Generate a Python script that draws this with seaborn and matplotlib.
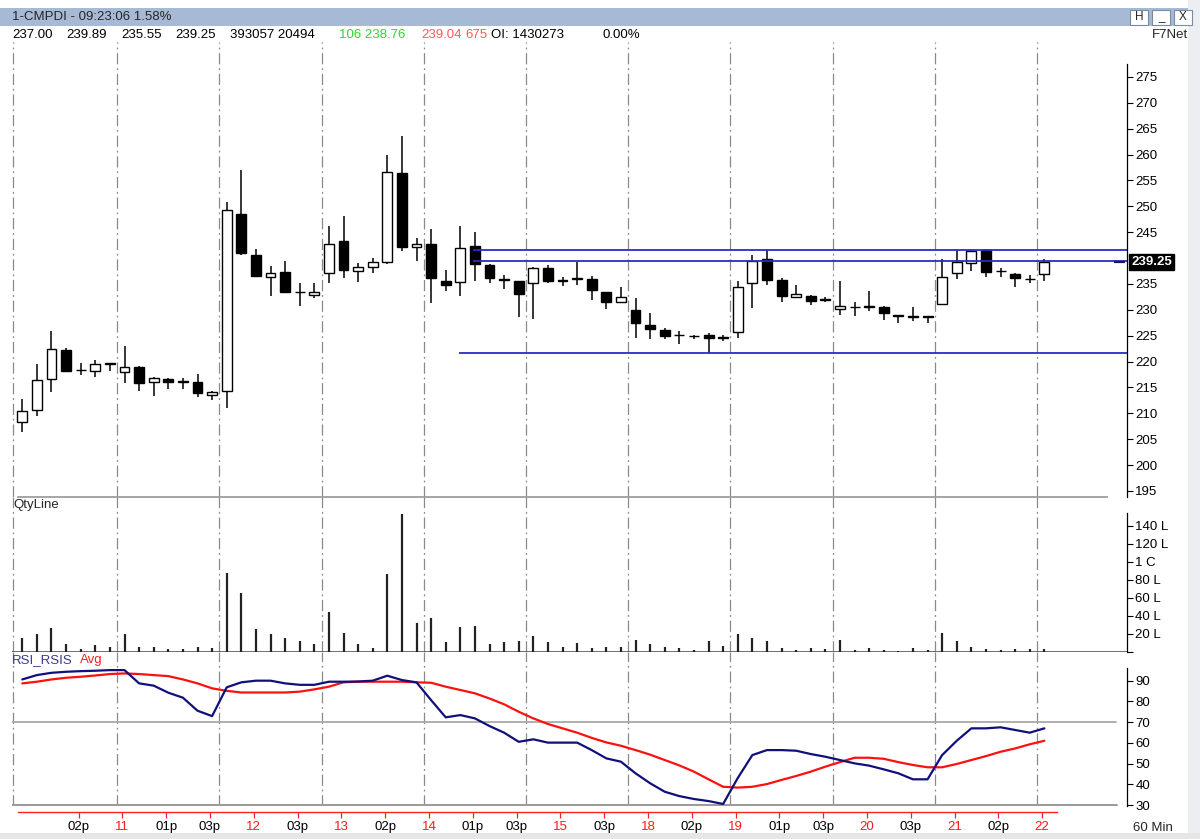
import numpy as np
import pandas as pd
import matplotlib
matplotlib.use("Agg")
import matplotlib.pyplot as plt
import matplotlib.transforms as mtransforms
from matplotlib.patches import Rectangle
import seaborn as sns

# 60 min candles, CMPDI (bar index 0..70)
opens = [208.3, 210.7, 216.6, 222.2, 218.3, 218.1, 219.6, 217.9, 219.0, 216.0,
         216.6, 216.1, 216.0, 213.6, 214.3, 248.5, 240.6, 236.4, 237.4, 233.4,
         232.9, 237.1, 243.4, 237.5, 238.3, 239.3, 256.4, 242.2, 242.7, 235.6,
         235.3, 242.3, 238.7, 235.8, 235.5, 235.1, 238.0, 235.6, 236.0, 236.0,
         233.4, 231.5, 230.0, 227.1, 226.1, 225.1, 224.9, 225.1, 224.6, 225.7,
         235.1, 239.9, 235.8, 232.55, 232.7, 232.0, 230.2, 230.5, 230.6, 230.6,
         228.9, 228.7, 228.7, 231.1, 237.1, 239.0, 241.6, 237.5, 236.9, 235.9,
         237.0]
highs = [212.8, 219.5, 225.9, 222.7, 219.7, 220.3, 219.8, 223.1, 219.2, 217.0,
         216.9, 216.9, 217.7, 214.3, 250.9, 257.0, 241.7, 238.5, 239.5, 235.1,
         235.1, 246.2, 248.1, 239.0, 240.0, 259.9, 263.6, 243.8, 245.6, 237.7,
         246.2, 245.1, 238.9, 236.8, 235.6, 238.2, 238.7, 236.3, 239.3, 236.5,
         233.5, 234.4, 232.3, 229.3, 226.5, 225.9, 225.2, 225.6, 225.2, 235.6,
         240.6, 241.6, 236.2, 234.8, 232.8, 232.5, 235.5, 231.6, 233.7, 230.8,
         229.1, 230.6, 228.8, 239.8, 241.6, 241.6, 241.7, 238.0, 237.2, 236.7,
         239.89]
lows = [206.4, 209.4, 214.2, 217.9, 217.4, 217.0, 218.2, 215.9, 214.4, 213.4,
        214.7, 214.7, 213.2, 212.6, 211.0, 240.6, 236.3, 232.7, 233.2, 230.8,
        232.2, 235.1, 236.2, 235.3, 237.1, 238.9, 241.4, 239.5, 231.4, 233.6,
        232.7, 235.6, 235.2, 234.0, 228.6, 228.2, 235.1, 234.6, 234.8, 232.0,
        230.1, 231.3, 224.6, 224.4, 224.4, 223.5, 224.4, 221.6, 223.9, 224.6,
        230.4, 234.8, 231.5, 232.3, 230.9, 231.6, 229.0, 228.9, 229.8, 228.1,
        227.4, 227.9, 227.4, 230.9, 236.0, 237.6, 236.4, 236.4, 234.4, 235.2,
        235.55]
closes = [210.5, 216.4, 222.4, 218.2, 218.4, 219.5, 219.7, 219.0, 215.9, 216.8,
          216.1, 216.2, 213.9, 214.1, 249.3, 240.9, 236.6, 237.2, 233.4, 233.5,
          233.5, 242.7, 237.7, 238.3, 239.3, 256.6, 242.2, 242.7, 236.2, 234.9,
          241.9, 238.8, 236.2, 235.9, 233.0, 238.0, 235.6, 235.7, 236.1, 233.8,
          231.5, 232.5, 227.4, 226.3, 225.0, 225.2, 225.0, 224.5, 224.7, 234.5,
          239.45, 235.8, 232.7, 233.0, 231.7, 232.1, 230.75, 230.6, 230.7, 229.3,
          229.0, 228.8, 228.8, 236.4, 239.2, 241.4, 237.4, 237.6, 236.2, 236.0,
          239.25]

# quantity in lakhs
volume = [15.2, 20, 26.7, 8.9, 3, 7.8, 5.9, 20, 5.2, 5.2,
          3, 3, 5.2, 4.1, 88.1, 65.9, 25.2, 20, 15.2, 12.6,
          8.9, 44.8, 21.5, 8.9, 4.1, 86.7, 153, 32.6, 37.4, 11.5,
          27.8, 28.9, 8.9, 11.5, 12.6, 17.8, 11.5, 5.2, 10.4, 4.8,
          5.2, 5.2, 13.7, 8.9, 5.2, 4.4, 2.2, 12.6, 6.3, 20,
          15.2, 12.6, 4.4, 2.2, 4.4, 3.3, 13.7, 2.2, 4.4, 2.2,
          1.1, 4.4, 2.2, 20.7, 11.9, 5.2, 3.3, 2.2, 3.3, 3.3,
          3.3]

rsi = [90.6, 92.7, 93.8, 94.3, 94.6, 94.8, 95.1, 95.1, 88.7, 87.6,
       84.2, 81.8, 75.5, 72.9, 86.8, 89.2, 90.0, 90.0, 88.7, 88.0,
       88.0, 89.5, 89.5, 89.6, 90.0, 92.4, 90.3, 89.2, 80.6, 72.3,
       73.4, 71.8, 68.1, 64.9, 60.5, 61.7, 60.1, 60.1, 60.1, 56.5,
       52.5, 50.9, 45.3, 40.5, 36.4, 34.3, 32.9, 31.9, 30.5, 43.0,
       54.1, 56.5, 56.5, 56.2, 54.6, 53.3, 51.7, 50.1, 49.0, 47.2,
       45.3, 42.4, 42.4, 54.1, 61.0, 67.0, 67.0, 67.5, 66.2, 64.9,
       67.0]
rsi_avg = [88.7, 89.5, 90.6, 91.4, 91.9, 92.5, 93.2, 93.5, 93.2, 92.7,
           92.2, 90.6, 88.7, 86.3, 85.1, 84.3, 84.3, 84.3, 84.3, 84.7,
           85.8, 87.1, 89.2, 89.5, 89.5, 89.5, 89.5, 89.2, 89.0, 87.1,
           85.5, 83.9, 81.4, 78.6, 75.0, 71.8, 69.1, 67.0, 64.9, 62.4,
           60.2, 58.6, 56.5, 54.3, 51.7, 49.1, 46.1, 42.4, 38.8, 38.4,
           38.8, 40.1, 42.1, 44.0, 46.1, 48.5, 50.7, 52.8, 52.8, 52.3,
           50.7, 49.3, 48.2, 48.2, 49.8, 51.7, 53.6, 55.7, 57.3, 59.3,
           61.0]

time_labels = ["02p", "11", "01p", "03p", "12", "03p", "13", "02p", "14", "01p",
               "03p", "15", "03p", "18", "02p", "19", "01p", "03p", "20", "03p",
               "21", "02p", "22"]

price_ticks = [195, 200, 205, 210, 215, 220, 225, 230, 235, 245, 250, 255, 260, 265, 270, 275]

# drawn levels: (price, start bar)
levels = [(241.6, 30.9), (239.4, 30.9), (221.6, 29.9)]
last_price = 239.25

df = pd.DataFrame({"bar": np.arange(len(closes)), "open": opens, "high": highs,
                   "low": lows, "close": closes, "qty": volume,
                   "rsi": rsi, "avg": rsi_avg})

sns.set_theme(style="white")
plt.rcParams["font.family"] = ["Liberation Sans", "DejaVu Sans"]

W, H = 1200, 839
fig = plt.figure(figsize=(W / 100, H / 100), dpi=100)
fig.patch.set_facecolor("white")


def rect(x0, y0, x1, y1):
    return [x0 / W, 1 - y1 / H, (x1 - x0) / W, (y1 - y0) / H]


XMIN, XMAX = -0.705, 75.66
grid_x = [6.5 + 7 * k for k in range(10)]
dash = dict(color="#8a8a8a", lw=0.9, dashes=(9, 3, 1.5, 3))
FS = 9.5

# window chrome
fig.patches.append(Rectangle((0, 1 - 26 / H), 1, 18 / H, transform=fig.transFigure,
                             fc="#a7bad5", ec="none", zorder=0))
fig.patches.append(Rectangle((1188 / W, 0), 12 / W, 1, transform=fig.transFigure,
                             fc="#eceef2", ec="none", zorder=0))
fig.patches.append(Rectangle((0, 0), 1, 6 / H, transform=fig.transFigure,
                             fc="#e6e6e6", ec="none", zorder=0))
fig.text(12 / W, 1 - 17 / H, "1-CMPDI - 09:23:06 1.58%", fontsize=FS, va="center")
for bx, ch in zip([1130, 1152, 1174], ["H", "_", "X"]):
    fig.patches.append(Rectangle((bx / W, 1 - 25 / H), 18 / W, 15 / H,
                                 transform=fig.transFigure, fc="white", ec="#7a8aa0", lw=0.8))
    fig.text((bx + 9) / W, 1 - 17.5 / H, ch, fontsize=8.5, ha="center", va="center")

info = [(12, "237.00", "black"), (66, "239.89", "black"), (121, "235.55", "black"),
        (175, "239.25", "black"), (230, "393057 20494", "black"),
        (339, "106 238.76", "#2bd92b"), (421, "239.04", "#ff5a5a"),
        (465, "675", "#ff5a5a"), (491, "OI: 1430273", "black"), (603, "0.00%", "black")]
for x, s, c in info:
    fig.text(x / W, 1 - 35 / H, s, fontsize=FS, color=c, va="center")
fig.text(1152 / W, 1 - 35 / H, "F7Net", fontsize=FS, va="center")

ax_p = fig.add_axes(rect(12, 42, 1127, 497))
ax_v = fig.add_axes(rect(12, 497, 1127, 652))
ax_r = fig.add_axes(rect(12, 652, 1127, 806))

for ax in (ax_p, ax_v, ax_r):
    ax.set_xlim(XMIN, XMAX)
    ax.set_facecolor("white")
    for gx in grid_x:
        ax.axvline(gx, **dash)
    ax.axvline(XMIN + 0.05, **dash)
    for s in ("left", "top", "bottom"):
        ax.spines[s].set_visible(False)
    ax.spines["right"].set_color("black")
    ax.spines["right"].set_linewidth(0.9)
    ax.yaxis.tick_right()
    ax.tick_params(axis="y", direction="out", length=4, width=0.8, pad=2,
                   labelsize=FS, colors="black", right=True)
    ax.tick_params(axis="x", bottom=False, labelbottom=False)

# price panel
ax_p.set_ylim(193.84, 281.76)
ax_p.set_yticks(price_ticks)
ax_p.spines["right"].set_bounds(193.84, 277.5)

up = df["close"] >= df["open"]
ax_p.vlines(df["bar"], df["low"], df["high"], color="black", lw=1.1, zorder=2)
ax_p.bar(df["bar"], df["close"] - df["open"], bottom=df["open"], width=0.68,
         color=np.where(up, "white", "black"), edgecolor="black", lw=1.0, zorder=3)
for lvl, start in levels:
    ax_p.hlines(lvl, start, XMAX, color="#2b2bc4", lw=1.3, zorder=4)
ax_p.hlines(last_price, 74.75, 75.5, color="#1a1a5a", lw=1.6, zorder=5)
trans = mtransforms.blended_transform_factory(ax_p.transAxes, ax_p.transData)
ax_p.text(1.004, last_price, f"{last_price:.2f}", transform=trans, color="white",
          fontsize=FS, fontweight="bold", va="center", ha="left", zorder=6,
          bbox=dict(boxstyle="square,pad=0.15", fc="black", ec="black"))

# quantity panel
ax_v.set_ylim(0, 172.2)
ax_v.set_yticks([0, 20, 40, 60, 80, 100, 120, 140])
ax_v.set_yticklabels(["", "20 L", "40 L", "60 L", "80 L", "1 C", "120 L", "140 L"])
ax_v.spines["right"].set_bounds(0, 154)
ax_v.spines["top"].set_visible(True)
ax_v.spines["top"].set_color("#9a9a9a")
ax_v.spines["top"].set_bounds(XMIN + 0.4, 74.3)
ax_v.axhline(0, color="#555555", lw=1.2)
ax_v.vlines(df["bar"], 0, df["qty"], color="#222222", lw=1.6)
fig.text(13 / W, 1 - 505 / H, "QtyLine", fontsize=FS, va="center")

# RSI panel
ax_r.set_ylim(29.52, 103.84)
ax_r.set_yticks(np.arange(30, 100, 10))
ax_r.spines["right"].set_bounds(29.52, 96)
ax_r.axhline(70, color="#a8a8a8", lw=1.3, xmax=0.99)
ax_r.axhline(30, color="#9c9c9c", lw=2.2, xmax=0.99)
sns.lineplot(data=df, x="bar", y="avg", ax=ax_r, color="#ff1010", lw=1.6, zorder=4)
sns.lineplot(data=df, x="bar", y="rsi", ax=ax_r, color="#10107a", lw=1.6, zorder=5)
ax_r.set_xlim(XMIN, XMAX)
for ax in (ax_p, ax_v, ax_r):
    ax.set_xlabel("")
    ax.set_ylabel("")
fig.text(12 / W, 1 - 660 / H, "RSI_RSIS", fontsize=FS, color="#3a3a8a", va="center")
fig.text(80 / W, 1 - 660 / H, "Avg", fontsize=FS, color="#ff2020", va="center")

tick_pos = [3.85 + 3 * k for k in range(len(time_labels))]
ax_r.spines["bottom"].set_visible(True)
ax_r.spines["bottom"].set_color("#ff2020")
ax_r.spines["bottom"].set_linewidth(1.0)
ax_r.spines["bottom"].set_position(("outward", 4.5))
ax_r.spines["bottom"].set_bounds(-0.3, 70.9)
ax_r.set_xticks(tick_pos)
ax_r.set_xticklabels(time_labels)
ax_r.tick_params(axis="x", bottom=True, labelbottom=True, direction="out", length=4,
                 width=0.9, color="#ff2020", labelsize=FS, pad=2)
for lab in ax_r.get_xticklabels():
    lab.set_color("black" if lab.get_text().endswith("p") else "#ff1a1a")
fig.text(1153 / W, 1 - 828 / H, "60 Min", fontsize=FS, ha="center", va="center")

fig.savefig("out.png", dpi=100)
